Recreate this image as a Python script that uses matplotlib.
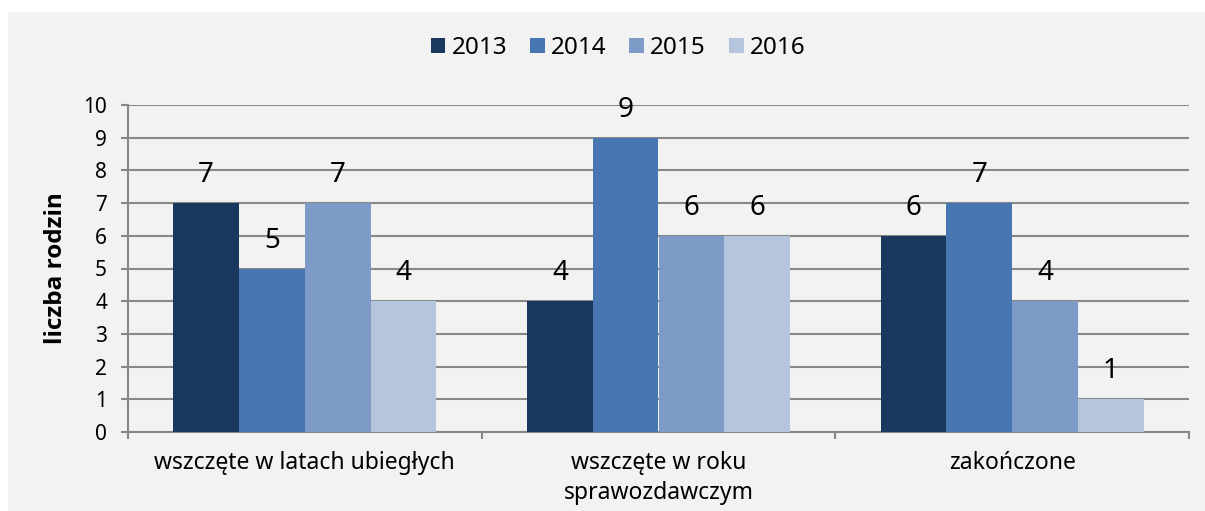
import numpy as np
import matplotlib.pyplot as plt
from matplotlib.patches import Rectangle

categories = ["wszczęte w latach ubiegłych", "wszczęte w roku\nsprawozdawczym", "zakończone"]
years = ["2013", "2014", "2015", "2016"]
values = {
    "2013": [7, 4, 6],
    "2014": [5, 9, 7],
    "2015": [7, 6, 4],
    "2016": [4, 6, 1],
}
colors = ["#1a375e", "#4876b0", "#7e9bc8", "#b6c5de"]
y_label = "liczba rodzin"

plt.rcParams['font.family'] = ['Noto Sans', 'DejaVu Sans']

fig = plt.figure(figsize=(12.05, 5.11), dpi=100, facecolor="white")
fig.patches.append(Rectangle((8 / 1205, 0), 1 - 8 / 1205, 1 - 12 / 511,
                             transform=fig.transFigure, facecolor="#f2f2f2",
                             edgecolor="none", zorder=-10))

ax = fig.add_axes([128 / 1205, 1 - 432 / 511, 1061 / 1205, 327 / 511])
ax.set_facecolor("#f2f2f2")

x = np.arange(len(categories))
w = 0.186
for i, (yr, c) in enumerate(zip(years, colors)):
    pos = x + (i - 1.5) * w
    bars = ax.bar(pos, values[yr], width=w, color=c, label=yr, zorder=3)
    for b, v in zip(bars, values[yr]):
        ax.annotate(str(v), (b.get_x() + b.get_width() / 2, v), xytext=(0, 10),
                    textcoords="offset points", ha="center", va="bottom",
                    fontsize=20, zorder=4)

ax.set_xlim(-0.5, 2.5)
ax.set_ylim(0, 10)
ax.set_yticks(range(0, 11))
ax.tick_params(axis="y", labelsize=15, length=5, width=1.5, color="#888888", pad=10)
ax.set_xticks([-0.5, 0.5, 1.5, 2.5])
ax.set_xticklabels([])
ax.set_xticks(x, minor=True)
ax.set_xticklabels(categories, minor=True, fontsize=16.5, linespacing=1.3)
ax.tick_params(axis="x", which="minor", length=0, pad=14)
ax.tick_params(axis="x", which="major", length=5, width=1.5, color="#888888", direction="out")
ax.grid(axis="y", color="#888888", linewidth=1.5, zorder=1)
for s in ["top", "right"]:
    ax.spines[s].set_visible(False)
for s in ["left", "bottom"]:
    ax.spines[s].set_color("#888888")
    ax.spines[s].set_linewidth(1.5)
ax.set_ylabel(y_label, fontsize=17.5, fontweight="bold", labelpad=11,
              family=["Open Sans", "DejaVu Sans"])

fig.legend(loc="center", bbox_to_anchor=(618 / 1205, 1 - 48 / 511), ncol=4,
           frameon=False, fontsize=17.5, handlelength=0.6, handleheight=0.6,
           handletextpad=0.25, columnspacing=0.95)

fig.savefig("out.png", dpi=100, facecolor=fig.get_facecolor())
